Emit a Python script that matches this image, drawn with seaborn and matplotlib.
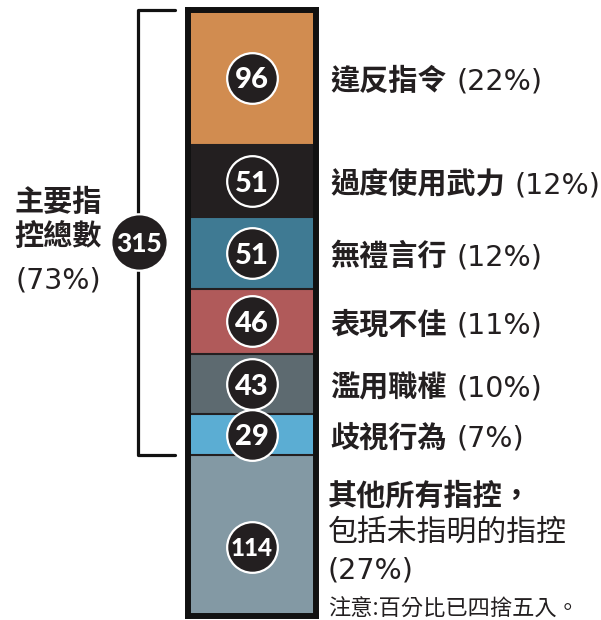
import numpy as np
import pandas as pd
import seaborn as sns
import matplotlib.pyplot as plt
from matplotlib.transforms import blended_transform_factory

# ---- data (top segment first) ----
categories = ["違反指令", "過度使用武力", "無禮言行", "表現不佳", "濫用職權", "歧視行為", "其他所有指控，"]
counts = [96, 51, 51, 46, 43, 29, 114]
pct_labels = ["(22%)", "(12%)", "(12%)", "(11%)", "(10%)", "(7%)", "(27%)"]
colors = ["#D18C50", "#231F20", "#3F7A93", "#B05A5A", "#5D6A70", "#5BADD3", "#8399A4"]
main_label = "主要指\n控總數"
main_total = 315
main_pct = "(73%)"
other_sub = "包括未指明的指控"
note = "注意:百分比已四捨五入。"

sns.set_style("white")
plt.rcParams["font.family"] = ["Noto Sans CJK TC", "DejaVu Sans"]

W, H = 601, 620
fig = plt.figure(figsize=(W / 100, H / 100), dpi=100)
ax = fig.add_axes([188 / W, 1 - 616 / H, 128 / W, 606 / H])

total = sum(counts)
tops = total - np.concatenate([[0], np.cumsum(counts)[:-1]])
centers = tops - np.array(counts) / 2
df = pd.DataFrame({"cat": categories, "count": counts, "top": tops, "center": centers})

dark = "#231F20"
num_font = dict(color="white", fontweight="black", fontfamily="Lato")
pct_font = dict(fontsize=20.5, color=dark, fontfamily="DejaVu Sans")

def num_size(n):
    return 21 if n < 100 else 17.5

# cumulative bars, tallest first so shorter ones sit on top
for i, row in df.iterrows():
    sns.barplot(x=[0], y=[row["top"]], color=colors[i], width=1.0, saturation=1,
                edgecolor=dark, linewidth=1.5, ax=ax)

ax.set_xlim(-0.5, 0.5)
ax.set_ylim(0, total)
ax.set_xticks([])
ax.set_yticks([])
ax.set_xlabel("")
ax.set_ylabel("")
for s in ax.spines.values():
    s.set_visible(True)
    s.set_color("#111111")
    s.set_linewidth(4.3)

# number badges (bottom badge sits a little low in its segment)
badge_y = df["center"].to_numpy().copy()
badge_y[-1] -= 8
sns.scatterplot(x=[0] * len(df), y=badge_y, s=1330, color=dark,
                edgecolor="white", linewidth=1.6, zorder=5, ax=ax, legend=False)
for k, row in df.iterrows():
    ax.text(0, badge_y[k], str(row["count"]), ha="center", va="center_baseline",
            zorder=6, fontsize=num_size(row["count"]), **num_font)

fx = lambda p: p / W
fy = lambda p: 1 - p / H
blend = blended_transform_factory(fig.transFigure, ax.transData)

# right labels
for i, row in df.iloc[:-1].iterrows():
    t1 = ax.text(fx(330), row["center"], row["cat"], transform=blend, ha="left",
                 va="center_baseline", fontsize=21, fontweight="bold", color=dark)
    ax.annotate(pct_labels[i], xy=(1, 0), xycoords=t1, xytext=(7, 0),
                textcoords="offset points", ha="left", va="bottom", **pct_font)

# other charges block
fig.text(fx(328), fy(493), categories[-1], ha="left", va="center_baseline",
         fontsize=21, fontweight="bold", color=dark)
fig.text(fx(328), fy(529), other_sub, ha="left", va="center_baseline",
         fontsize=21.5, color=dark)
fig.text(fx(327), fy(567), pct_labels[-1], ha="left", va="center_baseline", **pct_font)
fig.text(fx(328), fy(607), note, ha="left", va="center_baseline",
         fontsize=16, color=dark)

# bracket for main charges
main_bottom = counts[-1]
ax.plot([fx(175), fx(138), fx(138), fx(175)], [total, total, main_bottom, main_bottom],
        transform=blend, color="#111111", lw=2.3, clip_on=False, zorder=4)
ax.scatter([fx(139)], [fy(242)], s=1650, color=dark, edgecolor="white", linewidth=1.6,
           transform=fig.transFigure, clip_on=False, zorder=5)
ax.text(fx(139), fy(242), str(main_total), transform=fig.transFigure, ha="center",
        va="center_baseline", zorder=6, fontsize=19, **num_font)

fig.text(fx(58), fy(219), main_label, ha="center", va="center", fontsize=21,
         fontweight="bold", color=dark, linespacing=1.2)
fig.text(fx(58), fy(277), main_pct, ha="center", va="center_baseline", **pct_font)

fig.savefig("out.png", dpi=100)
